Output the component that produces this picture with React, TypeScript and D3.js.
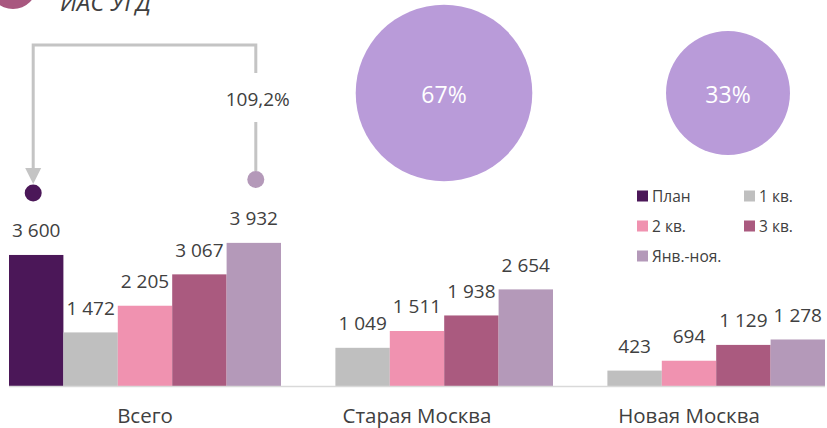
import React from "react";
import * as d3 from "d3";

const categories = ["Всего", "Старая Москва", "Новая Москва"];
const seriesNames = ["План", "1 кв.", "2 кв.", "3 кв.", "Янв.-ноя."];
const plan: (number | null)[] = [3600, null, null];
const q1 = [1472, 1049, 423];
const q2 = [2205, 1511, 694];
const q3 = [3067, 1938, 1129];
const janNov = [3932, 2654, 1278];
const shareLabels = ["Старая Москва", "Новая Москва"];
const shares = [67, 33];
const growthLabel = "109,2%";
const titleText = "ИАС УГД";

const colors = ["#4b1758", "#bfbfbf", "#f092b0", "#aa5a7f", "#b499b9"];
const bubbleColor = "#b99bd9";
const textColor = "#404040";
const font = "'Open Sans', 'Noto Sans', sans-serif";

const W = 827;
const H = 428;

const fmt = (v: number) => d3.format(",")(v).replace(/,/g, " ");

export default function App() {
  const seriesValues = [plan, q1, q2, q3, janNov];
  const baseline = 386;
  const x0 = d3.scaleBand<string>().domain(categories).range([9, 825]).padding(0);
  const x1 = d3.scaleBand<string>().domain(seriesNames).range([0, x0.bandwidth()]).padding(0);
  const y = d3.scaleLinear().domain([0, 4000]).range([baseline, baseline - 145.6]);

  const r = d3.scaleSqrt().domain([0, 67]).range([0, 88.3]);
  const bx = d3.scalePoint<string>().domain(shareLabels).range([444, 728]);
  const bubbleY = 93;

  // connector positions derived from bars
  const leftX = (x0(categories[0]) ?? 0) + (x1(seriesNames[0]) ?? 0) + x1.bandwidth() / 2 - 3;
  const rightX = (x0(categories[0]) ?? 0) + (x1(seriesNames[4]) ?? 0) + x1.bandwidth() / 2 + 2;
  const topY = 45;

  const legendItems = seriesNames.map((s, i) => ({
    name: s,
    color: colors[i],
    x: 637 + (i % 2) * 107,
    y: 196 + Math.floor(i / 2) * 30,
  }));

  return (
    <svg
      width={W}
      height={H}
      style={{ position: "absolute", left: 0, top: 0, background: "#fff" }}
      fontFamily={font}
    >
      {/* top-left decoration */}
      <circle cx={13} cy={-15} r={24} fill="#a8577f" />
      <text x={60} y={11} fontSize={24} fontStyle="italic" fill={textColor}>
        {titleText}
      </text>

      {/* connector */}
      <g stroke="#c4c4c4" strokeWidth={3} fill="none">
        <path d={`M${leftX},170 V${topY} H${rightX} V73`} />
        <path d={`M${rightX},122 V171`} />
      </g>
      <path
        d={`M${leftX - 8},168 L${leftX + 8},168 L${leftX},184 Z`}
        fill="#c4c4c4"
      />
      <circle cx={leftX} cy={193} r={8.5} fill={colors[0]} />
      <circle cx={rightX} cy={179.5} r={8.5} fill={colors[4]} />
      <text
        x={rightX + 2}
        y={106}
        textAnchor="middle"
        fontSize={19}
        fill={textColor}
      >
        {growthLabel}
      </text>

      {/* bubbles */}
      {shares.map((v, i) => (
        <g key={shareLabels[i]}>
          <circle cx={bx(shareLabels[i])} cy={bubbleY} r={r(v)} fill={bubbleColor} />
          <text
            x={bx(shareLabels[i])}
            y={bubbleY + 10}
            textAnchor="middle"
            fontSize={23}
            fill="#ffffff"
          >
            {v}%
          </text>
        </g>
      ))}

      {/* legend */}
      {legendItems.map((it) => (
        <g key={it.name}>
          <rect x={it.x} y={it.y - 5.5} width={11} height={11} fill={it.color} />
          <text x={it.x + 15} y={it.y + 5.5} fontSize={15.5} fill={textColor}>
            {it.name}
          </text>
        </g>
      ))}

      {/* bars */}
      {categories.map((c, ci) => (
        <g key={c} transform={`translate(${x0(c)},0)`}>
          {seriesNames.map((s, si) => {
            const v = seriesValues[si][ci];
            if (v == null) return null;
            const bxPos = x1(s) ?? 0;
            return (
              <g key={s}>
                <rect
                  x={bxPos}
                  y={y(v)}
                  width={x1.bandwidth()}
                  height={baseline - y(v)}
                  fill={colors[si]}
                />
                <text
                  x={bxPos + x1.bandwidth() / 2}
                  y={y(v) - 17.5}
                  textAnchor="middle"
                  fontSize={19}
                  fill={textColor}
                >
                  {fmt(v)}
                </text>
              </g>
            );
          })}
          <text
            x={x0.bandwidth() / 2}
            y={423}
            textAnchor="middle"
            fontSize={20.5}
            fill={textColor}
          >
            {c}
          </text>
        </g>
      ))}

      {/* axis line */}
      <line x1={9} x2={825} y1={baseline + 0.5} y2={baseline + 0.5} stroke="#d9d9d9" strokeWidth={1.5} />
    </svg>
  );
}
